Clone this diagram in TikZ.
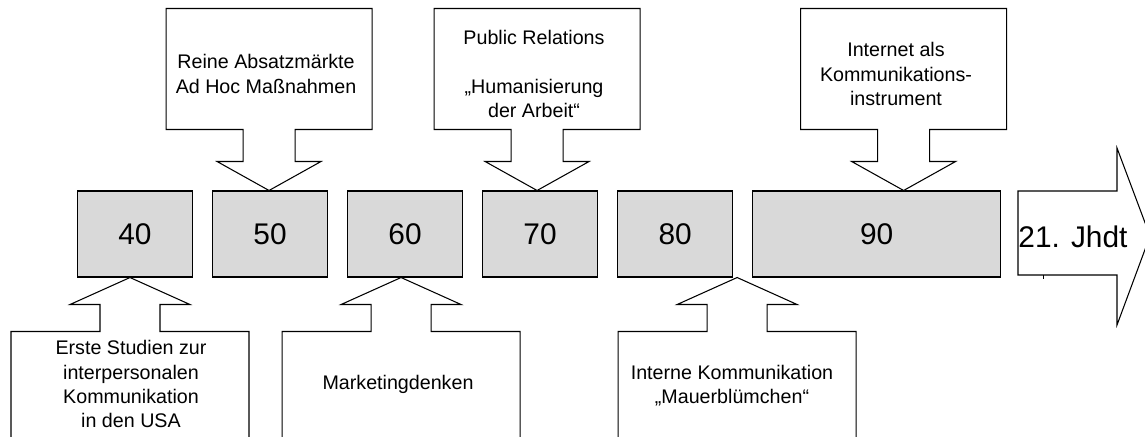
\documentclass[tikz,border=0pt]{standalone}
\usepackage{fontspec}
\setmainfont{Liberation Sans}
\usetikzlibrary{positioning}
\definecolor{yeargray}{RGB}{217,217,217}
\tikzset{
  year/.style={draw, fill=yeargray, minimum width=2.3cm, minimum height=1.72cm,
    inner sep=0pt, font=\fontsize{17}{20}\selectfont},
  callout/.style={draw, fill=white},
  note/.style={align=center, inner sep=0pt, font=\fontsize{11.2}{13.7}\selectfont}
}
\begin{document}
\begin{tikzpicture}[x=0.02cm, y=-0.02cm, line width=0.6pt, node distance=0.38cm]
        \useasboundingbox (0,0) rectangle (1145,436);
        % Jahrzehnte
        \node[year] (b40) at (135,234) {40};
        \node[year, right=of b40] (b50) {50};
        \node[year, right=of b50] (b60) {60};
        \node[year, right=of b60] (b70) {70};
        \node[year, right=of b70] (b80) {80};
        \node[year, right=of b80, minimum width=4.96cm] (b90) {90};

        % 21. Jhdt
        \draw[callout] (1018,191) -- (1117,191) -- (1117,148) -- (1150,236)
          -- (1117,325) -- (1117,275) -- (1018,275) -- cycle;
        \draw[line width=0.4pt] (1043,275) -- (1043,279);
        \node[inner sep=0pt, font=\fontsize{17}{20}\selectfont] (jhdt) at (1073,237) {21. Jhdt};

        % 50er
        \draw[callout] (b50.north) ++(-1,0) -- ++(-52,-29) -- ++(26,0) -- ++(0,-32) -- ++(-77,0)
          -- ++(0,-121) -- ++(206,0) -- ++(0,121) -- ++(-77,0) -- ++(0,32) -- ++(26,0) -- cycle;
        \node[note] (n50) at (266,74) {Reine Absatzmärkte\\Ad Hoc Maßnahmen};

        % 70er
        \draw[callout] (b70.north) ++(-3,0) -- ++(-52,-29) -- ++(26,0) -- ++(0,-32) -- ++(-77,0)
          -- ++(0,-121) -- ++(206,0) -- ++(0,121) -- ++(-77,0) -- ++(0,32) -- ++(26,0) -- cycle;
        \node[note] (n70) at (534,74) {Public Relations\\\mbox{}\\„Humanisierung\\der Arbeit“};

        % 90er
        \draw[callout] (b90.north) ++(27,0) -- ++(-52,-29) -- ++(26,0) -- ++(0,-32) -- ++(-77,0)
          -- ++(0,-121) -- ++(206,0) -- ++(0,121) -- ++(-77,0) -- ++(0,32) -- ++(26,0) -- cycle;
        \node[note] (n90) at (896,74) {Internet als\\Kommunikations-\\instrument};

        % 40er
        \draw[callout] (b40.south) ++(-5,0) -- ++(-60,27) -- ++(30,0) -- ++(0,27) -- ++(-89,0)
          -- ++(0,130) -- ++(238,0) -- ++(0,-130) -- ++(-89,0) -- ++(0,-27) -- ++(30,0) -- cycle;
        \node[note] (n40) at (131,384) {Erste Studien zur\\interpersonalen\\Kommunikation\\in den USA};

        % 60er
        \draw[callout] (b60.south) ++(-4,0) -- ++(-60,27) -- ++(30,0) -- ++(0,27) -- ++(-89,0)
          -- ++(0,130) -- ++(238,0) -- ++(0,-130) -- ++(-89,0) -- ++(0,-27) -- ++(30,0) -- cycle;
        \node[note] (n60) at (398,384) {Marketingdenken};

        % 80er
        \draw[callout] (b80.south east) ++(4,0) -- ++(-60,27) -- ++(30,0) -- ++(0,27) -- ++(-89,0)
          -- ++(0,130) -- ++(238,0) -- ++(0,-130) -- ++(-89,0) -- ++(0,-27) -- ++(30,0) -- cycle;
        \node[note] (n80) at (732,386) {Interne Kommunikation\\„Mauerblümchen“};
\end{tikzpicture}
\end{document}
